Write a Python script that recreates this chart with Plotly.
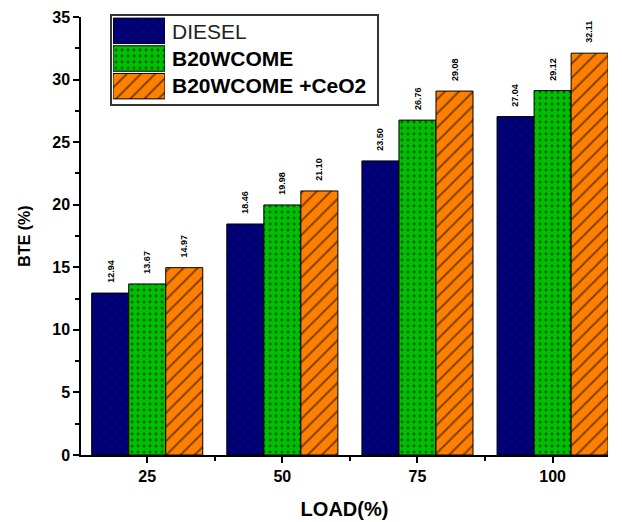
import plotly.graph_objects as go

loads = ["25", "50", "75", "100"]
series_names = ["DIESEL", "B20WCOME", "B20WCOME +CeO2"]
diesel = [12.94, 18.46, 23.50, 27.04]
b20 = [13.67, 19.98, 26.76, 29.12]
b20ceo2 = [14.97, 21.10, 29.08, 32.11]
values = [diesel, b20, b20ceo2]

colors = ["#000080", "#00BF00", "#FF8000"]
shapes_pat = ["x", ".", "/"]
pat_size = [7, 6, 10]
pat_sol = [0.25, 0.18, 0.2]

W, H = 622, 522
L, R, T, B = 81, 14, 17, 67
pw, ph = W - L - R, H - T - B

def px2x(px):
    return (px - L) / pw

def px2y(py):
    return (H - B - py) / ph

fig = go.Figure()
xs = list(range(len(loads)))
bargap = 0.178
bw = (1 - bargap) / 3

for k in range(3):
    fig.add_trace(go.Bar(
        x=xs, y=values[k], name=series_names[k],
        marker=dict(color=colors[k], line=dict(color="black", width=1),
                    pattern=dict(shape=shapes_pat[k], fgcolor="black", bgcolor=colors[k],
                                 size=pat_size[k], solidity=pat_sol[k], fillmode="overlay")),
        showlegend=False,
    ))
    for i, v in enumerate(values[k]):
        fig.add_annotation(x=i + (k - 1) * bw, y=v, text=f"{v:.2f}", textangle=-90,
                           showarrow=False, yanchor="bottom", xanchor="center", yshift=8,
                           font=dict(family="Liberation Sans", size=9, color="black", weight="bold"))

# custom legend swatches (horizontal bars in small subplot)
for k in range(3):
    fig.add_trace(go.Bar(
        x=[1], y=[k], orientation="h", xaxis="x2", yaxis="y2", width=0.92,
        marker=dict(color=colors[k], line=dict(color="black", width=1),
                    pattern=dict(shape=shapes_pat[k], fgcolor="black", bgcolor=colors[k],
                                 size=pat_size[k], solidity=pat_sol[k], fillmode="overlay")),
        showlegend=False, hoverinfo="skip",
    ))

legend_rows = [31, 58.5, 86]
for k in range(3):
    fig.add_annotation(xref="paper", yref="paper", x=px2x(170), y=px2y(legend_rows[k]),
                       text=series_names[k], showarrow=False, xanchor="left", yanchor="middle",
                       font=dict(family="Liberation Sans", size=21,
                                 color="#222" if k == 0 else "black",
                                 weight="normal" if k == 0 else "bold"))

fig.add_shape(type="rect", xref="paper", yref="paper",
              x0=px2x(111), x1=px2x(378), y0=px2y(105), y1=px2y(15),
              line=dict(color="#333", width=2), fillcolor="rgba(0,0,0,0)", layer="below")

tickfont = dict(family="Liberation Sans", size=16, color="black", weight="bold")

fig.update_layout(
    width=W, height=H,
    margin=dict(l=L, r=R, t=T, b=B),
    paper_bgcolor="white", plot_bgcolor="white",
    barmode="group", bargap=bargap, bargroupgap=0,
    xaxis=dict(range=[-0.49, 3.41], tickmode="array", tickvals=xs, ticktext=loads,
               automargin=False,
               showline=True, linecolor="black", linewidth=1.5, ticks="outside",
               ticklen=6, tickwidth=1.5, tickcolor="black", showgrid=False, zeroline=False,
               tickfont=tickfont,
               minor=dict(tick0=0.5, dtick=1, ticks="outside", ticklen=4, tickcolor="black", tickwidth=1.5),
               title=dict(text="LOAD(%)", standoff=18,
                          font=dict(family="Liberation Sans", size=20, color="black", weight="bold"))),
    yaxis=dict(range=[0, 35], dtick=5, showline=True, linecolor="black", linewidth=1.5,
               automargin=False,
               ticks="outside", ticklen=6, tickwidth=1.5, tickcolor="black",
               showgrid=False, zeroline=False, tickfont=tickfont,
               minor=dict(dtick=2.5, ticks="outside", ticklen=4, tickcolor="black", tickwidth=1.5),
               title=dict(text="BTE (%)", standoff=18,
                          font=dict(family="Liberation Sans", size=16, color="black", weight="bold"))),
    xaxis2=dict(domain=[px2x(113), px2x(165)], range=[0, 1], anchor="y2", visible=False, fixedrange=True),
    yaxis2=dict(domain=[px2y(100), px2y(17)], range=[2.5, -0.5], anchor="x2", visible=False, fixedrange=True),
    font=dict(family="Liberation Sans"),
)

fig.write_html("out.html")
